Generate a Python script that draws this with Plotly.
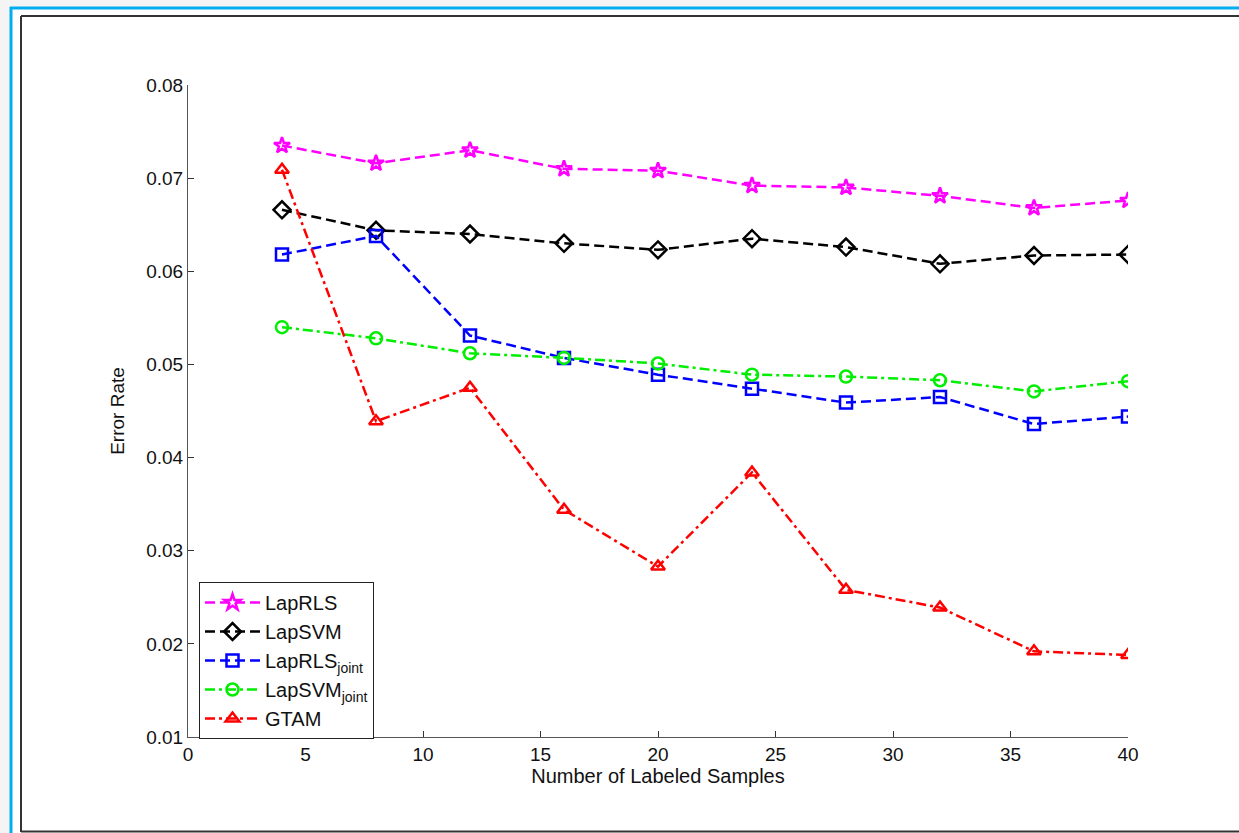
import plotly.graph_objects as go

x_samples = [4, 8, 12, 16, 20, 24, 28, 32, 36, 40]
lap_rls = [0.0735, 0.0716, 0.0730, 0.0710, 0.0708, 0.0692, 0.0690, 0.0681, 0.0668, 0.0676]
lap_svm = [0.0666, 0.0644, 0.0640, 0.0630, 0.0623, 0.0635, 0.0626, 0.0608, 0.0617, 0.0618]
lap_rls_joint = [0.0618, 0.0638, 0.0531, 0.0507, 0.0489, 0.0474, 0.0459, 0.0465, 0.0436, 0.0444]
lap_svm_joint = [0.0540, 0.0528, 0.0512, 0.0507, 0.0501, 0.0489, 0.0487, 0.0483, 0.0471, 0.0482]
gtam = [0.0709, 0.0439, 0.0475, 0.0344, 0.0283, 0.0384, 0.0258, 0.0239, 0.0192, 0.0188]

x_ticks = [0, 5, 10, 15, 20, 25, 30, 35, 40]
y_ticks = [0.01, 0.02, 0.03, 0.04, 0.05, 0.06, 0.07, 0.08]

FONT = "Liberation Sans, Arial, sans-serif"
DASH = "10px,5px"
DASHDOT = "10px,4px,3px,4px"

series = [
    ("LapRLS", lap_rls, "#ff00ff", DASH, "star-open", 12),
    ("LapSVM", lap_svm, "#000000", DASH, "diamond-open", 13),
    ("LapRLS<sub>joint</sub>", lap_rls_joint, "#0000ff", DASH, "square-open", 12),
    ("LapSVM<sub>joint</sub>", lap_svm_joint, "#00ee00", DASHDOT, "circle-open", 12),
    ("GTAM", gtam, "#ff0000", DASHDOT, "triangle-up-open", 12),
]

fig = go.Figure()
for name, vals, color, dash, sym, size in series:
    fig.add_trace(go.Scatter(
        x=x_samples, y=vals, name=name, mode="lines+markers",
        line=dict(color=color, width=2.5, dash=dash),
        marker=dict(symbol=sym, size=size, color=color, line=dict(color=color, width=2.5)),
    ))

W, H = 1239, 833
L, R, T, B = 188, 111, 85, 96
pw, ph = W - L - R, H - T - B

def px(xp):
    return (xp - L) / pw

def py(yp):
    return (H - B - yp) / ph

shapes = [
    dict(type="rect", xref="paper", yref="paper", x0=px(-20), x1=px(W + 20), y0=py(7), y1=py(-20),
         fillcolor="#f4f4f4", line=dict(width=0), layer="below"),
    dict(type="rect", xref="paper", yref="paper", x0=px(-20), x1=px(10), y0=py(H + 20), y1=py(-20),
         fillcolor="#f4f4f4", line=dict(width=0), layer="below"),
    dict(type="line", xref="paper", yref="paper", x0=px(10), x1=px(W + 20), y0=py(8), y1=py(8),
         line=dict(color="#00aeef", width=3)),
    dict(type="line", xref="paper", yref="paper", x0=px(11), x1=px(11), y0=py(7), y1=py(H + 20),
         line=dict(color="#00aeef", width=3)),
    dict(type="line", xref="paper", yref="paper", x0=px(21), x1=px(W + 20), y0=py(16), y1=py(16),
         line=dict(color="#333333", width=2)),
    dict(type="line", xref="paper", yref="paper", x0=px(21), x1=px(21), y0=py(16), y1=py(832),
         line=dict(color="#333333", width=2)),
    dict(type="line", xref="paper", yref="paper", x0=px(21), x1=px(W + 20), y0=py(831.5), y1=py(831.5),
         line=dict(color="#333333", width=2)),
]

fig.update_layout(
    width=W, height=H,
    margin=dict(l=L, r=R, t=T, b=B, autoexpand=False),
    paper_bgcolor="white",
    plot_bgcolor="rgba(0,0,0,0)",
    font=dict(family=FONT, color="#111111", size=17),
    shapes=shapes,
    showlegend=True,
    legend=dict(
        x=px(199), y=py(582), xanchor="left", yanchor="top",
        bordercolor="#222222", borderwidth=1, bgcolor="white",
        font=dict(family=FONT, size=20, color="#111111"),
        tracegroupgap=0, itemwidth=55,
    ),
    xaxis=dict(
        range=[0, 40], tickvals=x_ticks, ticktext=[str(v) for v in x_ticks],
        showgrid=False, zeroline=False, showline=True, linecolor="#555555", linewidth=1,
        ticks="inside", ticklen=6, tickcolor="#333333",
        tickfont=dict(size=19),
        title=dict(text="Number of Labeled Samples", font=dict(size=20), standoff=0),
    ),
    yaxis=dict(
        range=[0.01, 0.08], tickvals=y_ticks, ticktext=["%.2f" % v for v in y_ticks],
        showgrid=False, zeroline=False, showline=True, linecolor="#555555", linewidth=1,
        ticks="inside", ticklen=6, tickcolor="#333333",
        tickfont=dict(size=19),
        title=dict(text="Error Rate", font=dict(size=19), standoff=16),
    ),
)

fig.write_html(
    "out.html",
    config={"displayModeBar": False},
    post_script="document.body.style.margin='0';document.body.style.overflow='hidden';",
)
